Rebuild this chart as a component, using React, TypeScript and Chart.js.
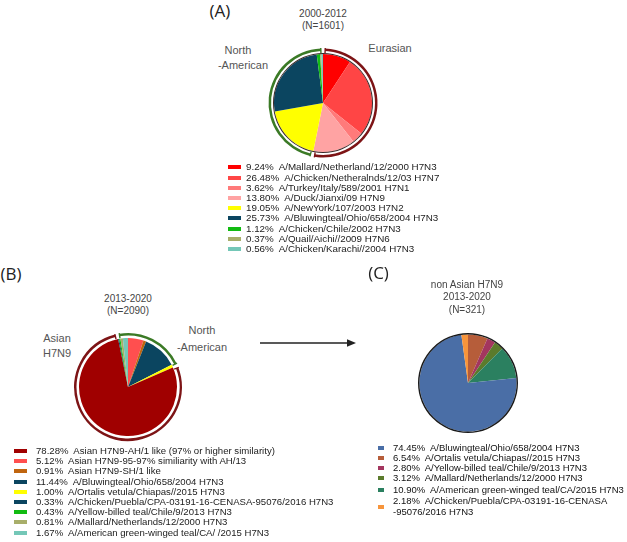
import React, { useEffect, useRef } from "react";
import { Chart, registerables } from "chart.js";
Chart.register(...registerables);

// ---------- (A) 2000-2012 ----------
const aLabels = [
  "A/Mallard/Netherland/12/2000 H7N3",
  "A/Chicken/Netheralnds/12/03 H7N7",
  "A/Turkey/Italy/589/2001 H7N1",
  "A/Duck/Jianxi/09 H7N9",
  "A/NewYork/107/2003 H7N2",
  "A/Bluwingteal/Ohio/658/2004 H7N3",
  "A/Chicken/Chile/2002 H7N3",
  "A/Quail/Aichi//2009 H7N6",
  "A/Chicken/Karachi//2004 H7N3",
];
const aValues = [9.24, 26.48, 3.62, 13.8, 19.05, 25.73, 1.12, 0.37, 0.56];
const aColors = ["#ff0000", "#ff4545", "#ff7a7a", "#ffa3a3", "#ffff00", "#0b4560", "#12bb12", "#a8ae6a", "#74c7b7"];
const aGroupOf = [0, 0, 0, 0, 1, 1, 1, 1, 1];
const aGroupNames = ["Eurasian", "North -American"];
const aGroupColors = ["#7d1416", "#3b7a26"];

// ---------- (B) 2013-2020 ----------
const bLabels = [
  "Asian H7N9-AH/1 like (97% or higher similarity)",
  "Asian H7N9-95-97% similiarity with AH/13",
  "Asian H7N9-SH/1 like",
  "A/Bluwingteal/Ohio/658/2004 H7N3",
  "A/Ortalis vetula/Chiapas//2015 H7N3",
  "A/Chicken/Puebla/CPA-03191-16-CENASA-95076/2016 H7N3",
  "A/Yellow-billed teal/Chile/9/2013 H7N3",
  "A/Mallard/Netherlands/12/2000 H7N3",
  "A/American green-winged teal/CA/ /2015 H7N3",
];
const bValues = [78.28, 5.12, 0.91, 11.44, 1.0, 0.33, 0.43, 0.81, 1.67];
const bColors = ["#a00000", "#ff4f4f", "#c0650f", "#0b4560", "#ffff00", "#0b4560", "#12bb12", "#a8ae6a", "#74c7b7"];
const bPieOrder = [1, 2, 3, 4, 0, 5, 6, 7, 8];
const bGroupOf = [0, 1, 1, 1, 1, 1, 1, 1, 1];
const bGroupNames = ["Asian H7N9", "North -American"];
const bGroupColors = ["#7d1416", "#3b7a26"];

// ---------- (C) non Asian H7N9 2013-2020 ----------
const cLabels = [
  "A/Bluwingteal/Ohio/658/2004 H7N3",
  "A/Ortalis vetula/Chiapas//2015 H7N3",
  "A/Yellow-billed teal/Chile/9/2013 H7N3",
  "A/Mallard/Netherlands/12/2000 H7N3",
  "A/American green-winged teal/CA/2015 H7N3",
  "A/Chicken/Puebla/CPA-03191-16-CENASA\n-95076/2016 H7N3",
];
const cValues = [74.45, 6.54, 2.8, 3.12, 10.9, 2.18];
const cColors = ["#4a6ea6", "#b65d3a", "#a3365f", "#5b7b2c", "#2b8060", "#f7953c"];
const cPieOrder = [1, 2, 3, 4, 0, 5];

const FONT = '"Liberation Sans", Arial, sans-serif';
const GAP = 1.3; // percent gap between group arcs

type Ring = { values: number[]; colors: string[]; rotation: number };

function ringData(ring: Ring) {
  const data: number[] = [];
  const colors: string[] = [];
  ring.values.forEach((v, i) => {
    data.push(GAP / 2, v - GAP, GAP / 2);
    colors.push("rgba(0,0,0,0)", ring.colors[i], "rgba(0,0,0,0)");
  });
  return { data, colors };
}

// small radial end ticks on the group arcs (bracket ends)
const bracketTicks = {
  id: "bracketTicks",
  afterDatasetsDraw(chart: any, _args: any, opts: any) {
    if (!opts || !opts.enabled) return;
    const meta = chart.getDatasetMeta(0);
    const ctx = chart.ctx;
    const cols = chart.data.datasets[0].backgroundColor;
    ctx.save();
    ctx.lineWidth = 1.4;
    meta.data.forEach((arc: any, i: number) => {
      if (i % 3 !== 1) return;
      const { x, y, startAngle, endAngle, outerRadius } = arc.getProps(["x", "y", "startAngle", "endAngle", "outerRadius"], true);
      ctx.strokeStyle = cols[i];
      [startAngle, endAngle].forEach((a: number) => {
        ctx.beginPath();
        ctx.moveTo(x + Math.cos(a) * (outerRadius + 0.5), y + Math.sin(a) * (outerRadius + 0.5));
        ctx.lineTo(x + Math.cos(a) * (outerRadius - 4.5), y + Math.sin(a) * (outerRadius - 4.5));
        ctx.stroke();
      });
    });
    ctx.restore();
  },
};

function PieChart(props: {
  values: number[];
  colors: string[];
  ring?: Ring;
  outline?: string;
  radius: number;
  ringW: number;
  gapW: number;
  outlineW: number;
  size: number;
  left: number;
  top: number;
}) {
  const ref = useRef<HTMLCanvasElement>(null);
  useEffect(() => {
    const datasets: any[] = [];
    if (props.ring) {
      const r = ringData(props.ring);
      datasets.push({
        data: r.data,
        backgroundColor: r.colors,
        borderWidth: 0,
        weight: props.ringW,
        rotation: props.ring.rotation,
        radius: props.radius,
      });
      datasets.push({
        data: [1],
        backgroundColor: ["rgba(0,0,0,0)"],
        borderWidth: 0,
        weight: props.gapW,
        radius: props.radius,
      });
    }
    if (props.outline) {
      datasets.push({
        data: [1],
        backgroundColor: [props.outline],
        borderWidth: 0,
        weight: props.outlineW,
        radius: props.radius,
      });
    }
    const pieW = props.radius - (props.ring ? props.ringW + props.gapW : 0) - (props.outline ? props.outlineW : 0);
    datasets.push({
      data: props.values,
      backgroundColor: props.colors,
      borderWidth: 0,
      weight: pieW,
      radius: props.radius,
    });
    const chart = new Chart(ref.current!, {
      type: "pie",
      data: { labels: props.values.map((_, i) => String(i)), datasets },
      plugins: [bracketTicks],
      options: {
        responsive: false,
        animation: false,
        events: [],
        radius: props.radius,
        layout: { padding: 0 },
        plugins: {
          legend: { display: false },
          tooltip: { enabled: false },
          bracketTicks: { enabled: !!props.ring },
        },
      } as any,
    });
    return () => chart.destroy();
  }, []);
  return (
    <canvas
      ref={ref}
      width={props.size}
      height={props.size}
      style={{ position: "absolute", left: props.left, top: props.top, width: props.size, height: props.size }}
    />
  );
}

function Txt(props: { x: number; y: number; size: number; color?: string; family?: string; children: React.ReactNode }) {
  return (
    <div
      style={{
        position: "absolute",
        left: props.x,
        top: props.y,
        transform: "translate(-50%, -50%)",
        whiteSpace: "nowrap",
        fontSize: props.size,
        lineHeight: 1,
        color: props.color || "#444",
        fontFamily: props.family || FONT,
        textAlign: "center",
      }}
    >
      {props.children}
    </div>
  );
}

function Legend(props: {
  labels: string[];
  values: number[];
  colors: string[];
  top: number;
  swX: number;
  swW: number;
  swH: number;
  textX: number;
  rowH: number;
  fontSize: number;
  extra?: number[];
  color: string;
}) {
  let y = props.top;
  return (
    <>
      {props.labels.map((lab, i) => {
        const lines = lab.split("\n");
        y += props.extra ? props.extra[i] || 0 : 0;
        const top = y;
        const h = props.rowH * lines.length;
        y += h;
        return (
          <div key={i} style={{ position: "absolute", left: 0, top, height: h, width: 627 }}>
            <div
              style={{
                position: "absolute",
                left: props.swX,
                top: h / 2 - props.swH / 2,
                width: props.swW,
                height: props.swH,
                background: props.colors[i],
              }}
            />
            <div
              style={{
                position: "absolute",
                left: props.textX,
                top: 0,
                fontFamily: FONT,
                fontSize: props.fontSize,
                lineHeight: props.rowH + "px",
                whiteSpace: "pre",
                color: props.color,
              }}
            >
              {lines.map((l, k) => (
                <div key={k}>{k === 0 ? props.values[i].toFixed(2) + "%  " + l : l}</div>
              ))}
            </div>
          </div>
        );
      })}
    </>
  );
}

function sumByGroup(values: number[], groupOf: number[], n: number) {
  const s = new Array(n).fill(0);
  values.forEach((v, i) => (s[groupOf[i]] += v));
  return s.map((v) => Math.round(v * 100) / 100);
}

export default function App() {
  const aGroupVals = sumByGroup(aValues, aGroupOf, 2);
  const bGroupVals = sumByGroup(bValues, bGroupOf, 2);
  const bPieVals = bPieOrder.map((i) => bValues[i]);
  const bPieCols = bPieOrder.map((i) => bColors[i]);
  // the NA slices drawn after the Asian slice sit left of the top
  const bTail = bPieOrder.slice(bPieOrder.indexOf(0) + 1).reduce((s, i) => s + bValues[i], 0);
  const bTotal = bValues.reduce((s, v) => s + v, 0);
  const cPieVals = cPieOrder.map((i) => cValues[i]);
  const cPieCols = cPieOrder.map((i) => cColors[i]);

  return (
    <div style={{ position: "absolute", left: 0, top: 0, width: 627, height: 542, background: "#fff", overflow: "hidden" }}>
      {/* Panel A */}
      <Txt x={220} y={10} size={17} color="#222" family='"Open Sans", sans-serif'>(A)</Txt>
      <Txt x={323} y={14} size={10}>2000-2012</Txt>
      <Txt x={323} y={25.5} size={10}>(N=1601)</Txt>
      <Txt x={390} y={47.5} size={11} color="#555">{aGroupNames[0]}</Txt>
      <Txt x={238} y={50} size={11} color="#555">North</Txt>
      <Txt x={243} y={65} size={11} color="#555">-American</Txt>
      <PieChart
        values={aValues}
        colors={aColors}
        ring={{ values: aGroupVals, colors: aGroupColors, rotation: 0 }}
        outline="#3a2a2a"
        radius={54.5}
        ringW={2.5}
        gapW={2}
        outlineW={1}
        size={124}
        left={261}
        top={41}
      />
      <Legend
        labels={aLabels}
        values={aValues}
        colors={aColors}
        top={162.4}
        swX={228}
        swW={13}
        swH={4}
        textX={246}
        rowH={10.2}
        fontSize={9.8}
        color="#222"
      />

      {/* Panel B */}
      <Txt x={11} y={273} size={17} color="#222" family='"Open Sans", sans-serif'>(B)</Txt>
      <Txt x={128} y={299} size={10}>2013-2020</Txt>
      <Txt x={128} y={310.5} size={10}>(N=2090)</Txt>
      <Txt x={57} y={338} size={11} color="#555">Asian</Txt>
      <Txt x={57} y={352.5} size={11} color="#555">H7N9</Txt>
      <Txt x={202} y={330} size={11} color="#555">North</Txt>
      <Txt x={202} y={346.5} size={11} color="#555">-American</Txt>
      <PieChart
        values={bPieVals}
        colors={bPieCols}
        ring={{ values: [bGroupVals[1], bGroupVals[0]], colors: [bGroupColors[1], bGroupColors[0]], rotation: (-360 * bTail) / bTotal }}
        radius={54}
        ringW={2.5}
        gapW={2.5}
        outlineW={0}
        size={124}
        left={66}
        top={325}
      />
      <Legend
        labels={bLabels}
        values={bValues}
        colors={bColors}
        top={445.9}
        swX={14}
        swW={13}
        swH={4}
        textX={36}
        rowH={10.2}
        fontSize={9.6}
        color="#222"
      />

      {/* Arrow */}
      <svg width={627} height={542} style={{ position: "absolute", left: 0, top: 0 }}>
        <line x1={260} y1={343} x2={349} y2={343} stroke="#222" strokeWidth={1.6} />
        <polygon points="356,343 347,339.3 347,346.7" fill="#222" />
      </svg>

      {/* Panel C */}
      <Txt x={378.5} y={272} size={17} color="#222" family='"Open Sans", sans-serif'>(C)</Txt>
      <Txt x={467} y={285} size={10}>non Asian  H7N9</Txt>
      <Txt x={467} y={297} size={10}>2013-2020</Txt>
      <Txt x={467} y={309.5} size={10}>(N=321)</Txt>
      <PieChart
        values={cPieVals}
        colors={cPieCols}
        outline="#1a1a1a"
        radius={50}
        ringW={0}
        gapW={0}
        outlineW={1.4}
        size={110}
        left={413}
        top={328}
      />
      <Legend
        labels={cLabels}
        values={cValues}
        colors={cColors}
        top={442.6}
        swX={378}
        swW={6}
        swH={4}
        textX={393}
        rowH={10.2}
        fontSize={9.5}
        extra={[0, 0, 0, 0, 1.4, 1.4]}
        color="#111"
      />
    </div>
  );
}
